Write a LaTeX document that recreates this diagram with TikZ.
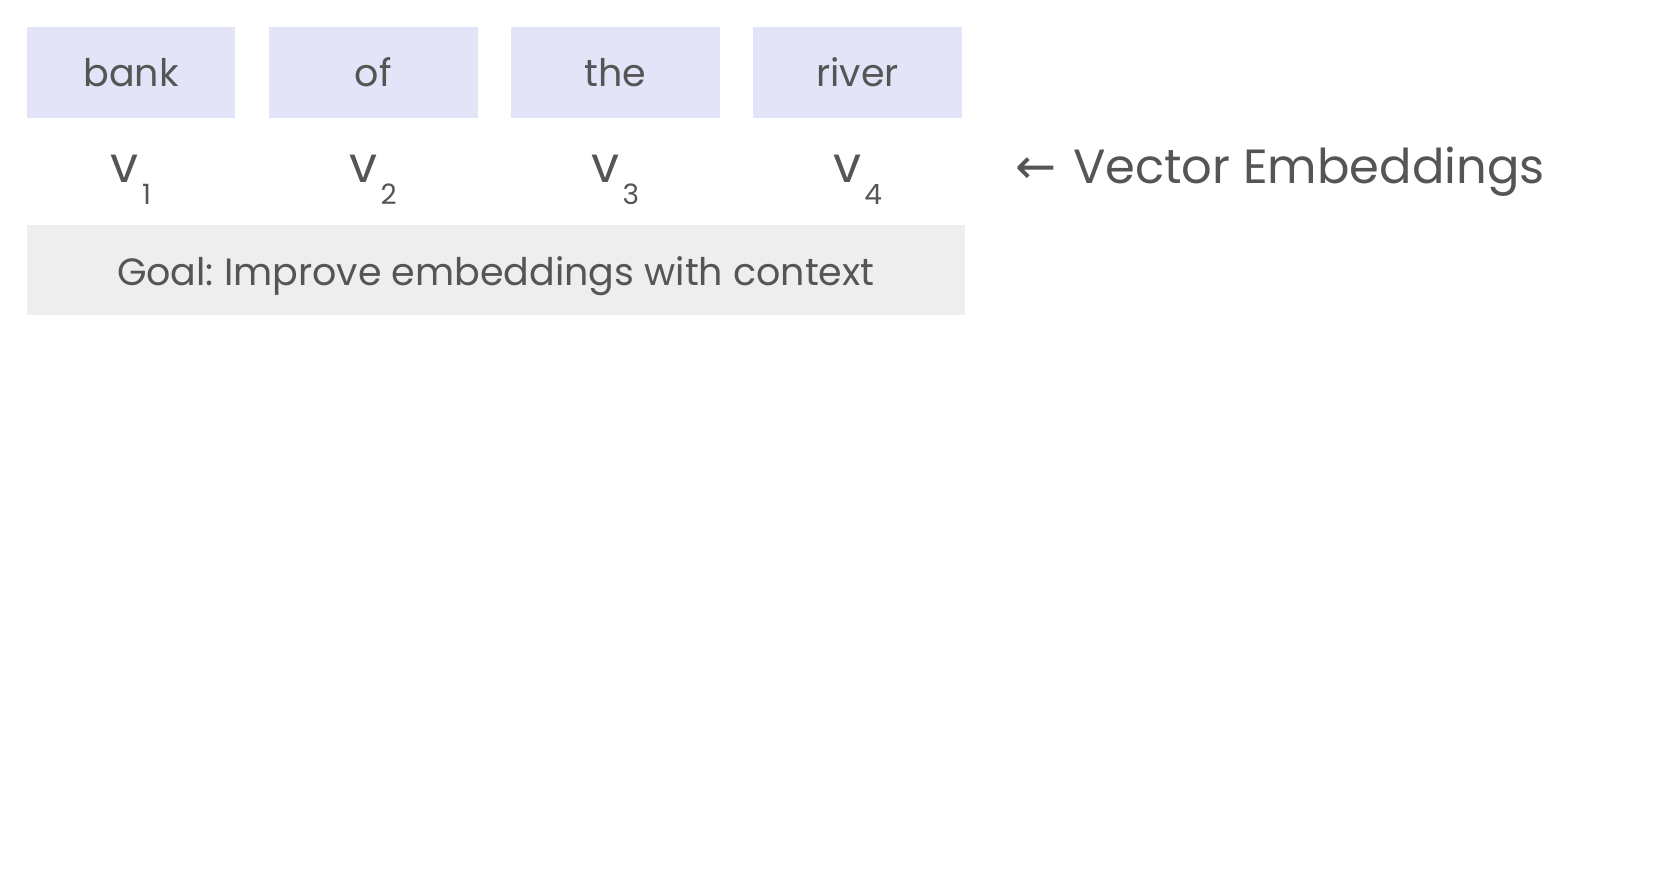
\documentclass[tikz,border=0pt]{standalone}
\usepackage{fontspec}
\setmainfont{Poppins}
\newfontfamily\arrowfont{DejaVu Sans}
\usetikzlibrary{positioning}
\frenchspacing
\definecolor{Ink}{HTML}{555555}
\definecolor{WordFill}{HTML}{E3E4F8}
\definecolor{GoalFill}{HTML}{EEEEEE}
\tikzset{
  wordbox/.style={fill=WordFill,minimum width=208.8pt,minimum height=91.6pt,inner sep=0pt,font=\fontsize{38}{44}\selectfont,text=Ink},
  vecnode/.style={inner sep=0pt,font=\fontsize{50}{56}\selectfont,text=Ink},
  goalbox/.style={fill=GoalFill,minimum width=938.3pt,minimum height=90.5pt,inner sep=0pt,text height=31pt,text depth=0pt,font=\fontsize{38}{44}\selectfont,text=Ink},
  notelabel/.style={inner sep=0pt,anchor=west,font=\fontsize{48}{54}\selectfont,text=Ink}
}
\newcommand{\vsub}[1]{v\kern3pt\raisebox{-22pt}{\fontsize{28}{30}\selectfont #1}}

\begin{document}
\begin{tikzpicture}[x=1pt,y=-1pt,node distance=33pt]
  \useasboundingbox (0,0) rectangle (1670,894);
  \node[wordbox] (bank) at (131,72.4) {bank};
  \node[wordbox,right=of bank] (of) {of};
  \node[wordbox,right=of of] (the) {the};
  \node[wordbox,right=of the] (river) {river};
  \node[vecnode] (v1) at (bank |- 0,180) {\vsub{1}};
  \node[vecnode] (v2) at (of |- 0,180) {\vsub{2}};
  \node[vecnode] (v3) at (the |- 0,180) {\vsub{3}};
  \node[vecnode] (v4) at (river |- 0,180) {\vsub{4}};
  \node[goalbox] (goal) at (495.75,270) {Goal: Improve embeddings with context};
  \node[notelabel] (note) at (1015,172) {{\arrowfont\fontsize{49}{54}\selectfont ←}~\hspace{4pt}Vector Embeddings};
\end{tikzpicture}
\end{document}
